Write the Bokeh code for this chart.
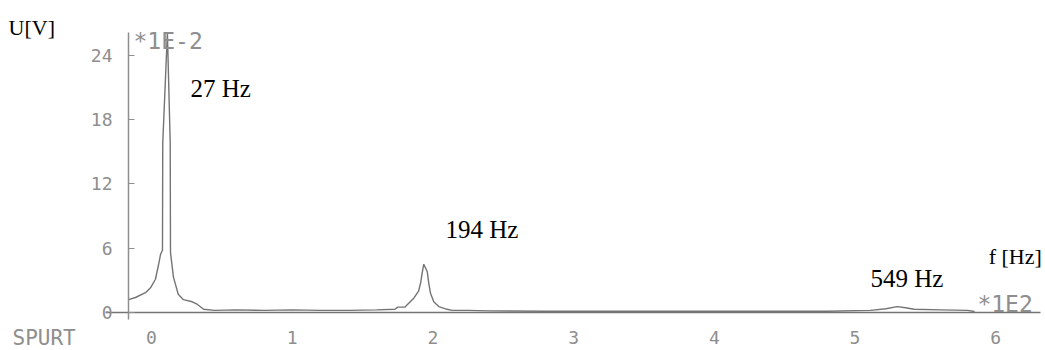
from bokeh.plotting import figure
from bokeh.models import Label, FixedTicker, Range1d
from bokeh.embed import file_html
from bokeh.resources import INLINE

# spectrum (frequency in 1E2 Hz, amplitude in 1E-2 V)
freq = [-0.163, -0.114, -0.043, -0.007, 0.028, 0.05, 0.064, 0.078, 0.080, 0.113,
        0.133, 0.135, 0.156, 0.19, 0.227, 0.29, 0.327, 0.37, 0.45, 0.6, 0.8, 1.0,
        1.2, 1.4, 1.6, 1.73, 1.75, 1.80, 1.862, 1.898, 1.912, 1.924, 1.935, 1.96,
        1.971, 1.983, 2.006, 2.042, 2.10, 2.137, 2.25, 2.4, 2.8, 3.2, 3.6, 4.0,
        4.4, 4.8, 5.11, 5.22, 5.30, 5.36, 5.42, 5.61, 5.80, 5.85]
amp = [1.2, 1.4, 1.85, 2.3, 3.1, 4.45, 5.4, 5.8, 15.8, 26.1,
       15.8, 5.6, 3.3, 1.7, 1.2, 1.0, 0.75, 0.3, 0.2, 0.25, 0.2, 0.25,
       0.2, 0.2, 0.25, 0.3, 0.5, 0.5, 1.3, 2.0, 2.7, 3.7, 4.5, 3.8,
       2.7, 1.8, 1.0, 0.55, 0.3, 0.2, 0.2, 0.15, 0.12, 0.12, 0.12, 0.12,
       0.12, 0.12, 0.2, 0.35, 0.55, 0.45, 0.3, 0.25, 0.2, 0.1]

x_ticks = [0, 1, 2, 3, 4, 5, 6]
y_ticks = [0, 6, 12, 18, 24]

peak_labels = ["27 Hz", "194 Hz", "549 Hz"]
peak_label_x = [0.277, 2.09, 5.11]
peak_label_y = [20.88, 7.74, 3.17]

GRAY = "#8e8e8e"
LINE = "#747474"

p = figure(width=1045, height=350, output_backend="svg", toolbar_location=None,
           x_range=Range1d(-1.0732, 6.354), y_range=Range1d(-3.54, 29.08),
           min_border=0)
p.outline_line_color = None
p.xgrid.visible = False
p.ygrid.visible = False
p.background_fill_color = "white"
p.border_fill_color = "white"

p.line(freq, amp, line_color=LINE, line_width=1.4)

# axes drawn at fixed data locations inside the frame
p.xaxis.fixed_location = 0
p.xaxis.bounds = (-0.33, 6.318)
p.xaxis.ticker = FixedTicker(ticks=x_ticks)
p.xaxis.axis_line_color = LINE
p.xaxis.axis_line_width = 1.4
p.xaxis.major_tick_line_color = None
p.xaxis.minor_tick_line_color = None
p.xaxis.major_label_standoff = 12
p.xaxis.major_label_text_font = "DejaVu Sans Mono"
p.xaxis.major_label_text_font_size = "18px"
p.xaxis.major_label_text_color = GRAY

p.yaxis.fixed_location = -0.1635
p.yaxis.bounds = (-0.65, 26.1)
p.yaxis.ticker = FixedTicker(ticks=y_ticks)
p.yaxis.axis_line_color = GRAY
p.yaxis.axis_line_width = 1.5
p.yaxis.major_tick_in = 6
p.yaxis.major_tick_out = 0
p.yaxis.major_tick_line_color = GRAY
p.yaxis.minor_tick_line_color = None
p.yaxis.major_label_standoff = 16
p.yaxis.major_label_text_font = "DejaVu Sans Mono"
p.yaxis.major_label_text_font_size = "18px"
p.yaxis.major_label_text_color = GRAY

# texts
def lab(x, y, t, font, size, color):
    p.add_layout(Label(x=x, y=y, text=t, text_font=font, text_font_size=size,
                       text_color=color, text_baseline="middle", text_align="left"))

lab(-1.016, 26.56, "U[V]", "Liberation Serif", "22px", "black")
lab(-0.128, 25.35, "*1E-2", "DejaVu Sans Mono", "23px", GRAY)
for t, x, y in zip(peak_labels, peak_label_x, peak_label_y):
    lab(x, y, t, "Liberation Serif", "25px", "black")
lab(5.95, 5.22, "f [Hz]", "Liberation Serif", "22px", "black")
lab(5.87, 0.84, "*1E2", "DejaVu Sans Mono", "23px", GRAY)
lab(-0.988, -2.42, "SPURT", "DejaVu Sans Mono", "21px", GRAY)

open("out.html", "w").write(file_html(p, INLINE))
